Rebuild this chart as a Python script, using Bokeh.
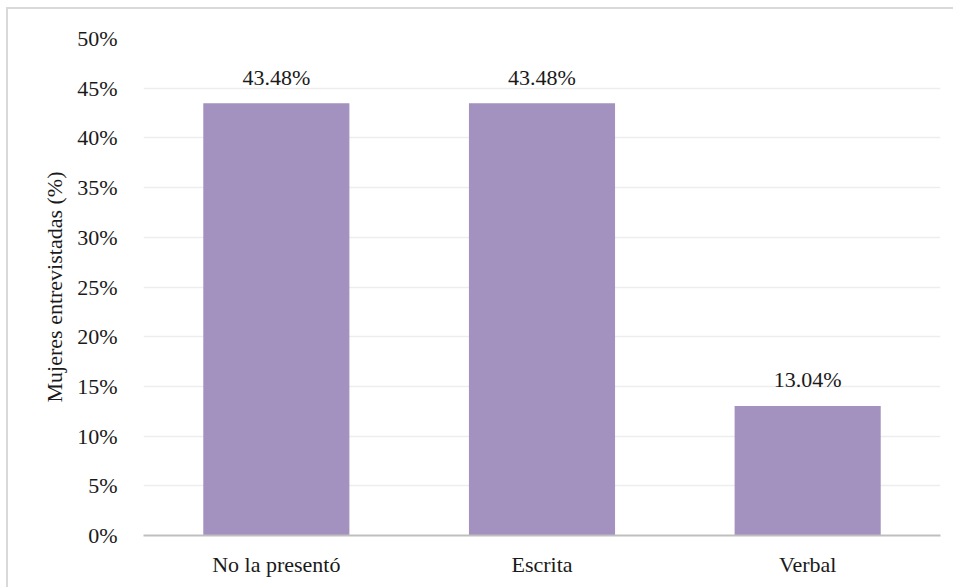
from bokeh.plotting import figure
from bokeh.models import ColumnDataSource, NumeralTickFormatter, FixedTicker, Range1d, FactorRange
from bokeh.embed import file_html
from bokeh.resources import INLINE
from bokeh.core.properties import value

categories = ["No la presentó", "Escrita", "Verbal"]
values = [0.4348, 0.4348, 0.1304]
labels = ["43.48%", "43.48%", "13.04%"]
y_ticks = [0, 0.05, 0.10, 0.15, 0.20, 0.25, 0.30, 0.35, 0.40, 0.45, 0.50]

FONT = "Liberation Serif"
TXT = "#1a1a1a"

src = ColumnDataSource(dict(cat=categories, val=values, lab=labels))

p = figure(x_range=FactorRange(factors=categories, range_padding=0),
           y_range=Range1d(0, 0.5),
           width=947, height=580, output_backend="svg", toolbar_location=None,
           min_border_left=135, min_border_right=15, min_border_top=29, min_border_bottom=54)
p.styles = {"border-left": "2px solid #D9D9D9", "border-top": "2px solid #D9D9D9",
            "margin-left": "6px", "margin-top": "7px", "box-sizing": "border-box"}
p.outline_line_color = None

p.vbar(x="cat", top="val", width=0.55, source=src, fill_color="#A391BF", line_color=None)
p.text(x="cat", y="val", text="lab", source=src, text_align="center", text_baseline="alphabetic",
       y_offset=-26, text_font=value(FONT), text_font_size="22px", text_color=TXT)

p.yaxis.ticker = FixedTicker(ticks=y_ticks)
p.yaxis.formatter = NumeralTickFormatter(format="0%")
p.yaxis.axis_line_color = None
p.yaxis.major_tick_line_color = None
p.yaxis.minor_tick_line_color = None
p.yaxis.major_label_standoff = 20
p.yaxis.axis_label = "Mujeres entrevistadas (%)"
p.yaxis.axis_label_standoff = 7
p.yaxis.axis_label_text_font = FONT
p.yaxis.axis_label_text_font_style = "normal"
p.yaxis.axis_label_text_font_size = "22px"
p.yaxis.axis_label_text_color = TXT

p.xaxis.axis_line_color = "#BFBFBF"
p.xaxis.axis_line_width = 2
p.xaxis.major_tick_line_color = None
p.xaxis.minor_tick_line_color = None
p.xaxis.major_label_standoff = 10

for ax in (p.xaxis, p.yaxis):
    ax.major_label_text_font = FONT
    ax.major_label_text_font_size = "22px"
    ax.major_label_text_color = TXT

p.xgrid.grid_line_color = None
p.ygrid.grid_line_color = "#EDEDED"
p.ygrid.grid_line_width = 1.5

open("out.html", "w").write(file_html(p, INLINE))
